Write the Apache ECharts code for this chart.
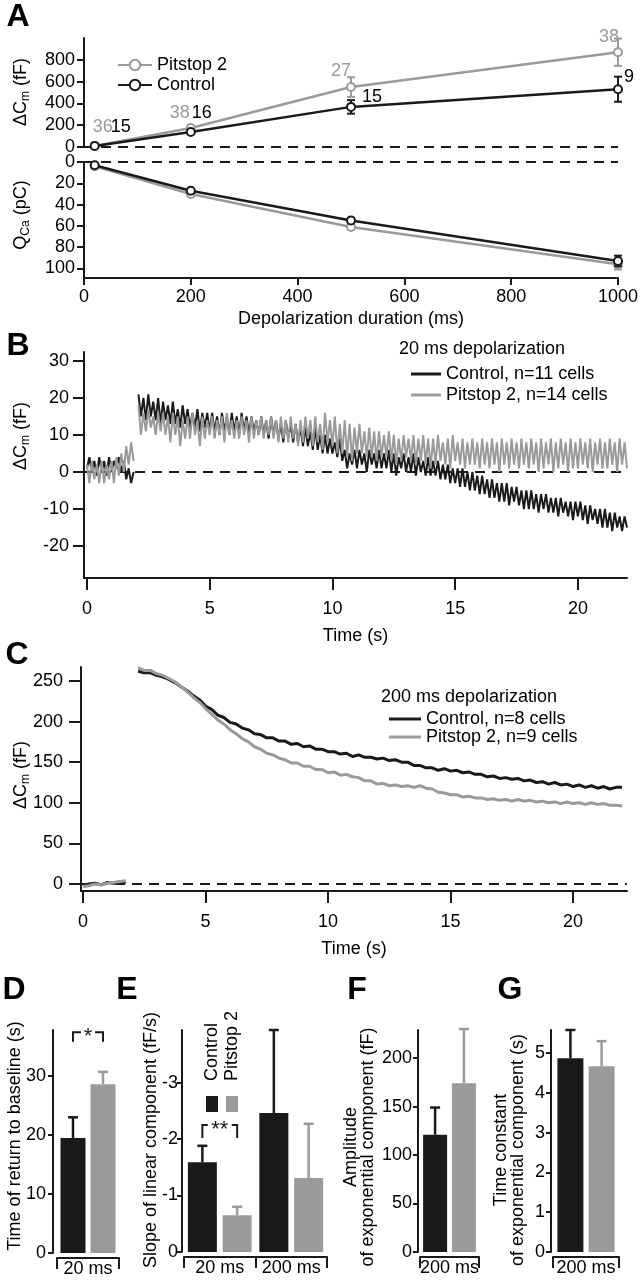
<!DOCTYPE html>
<html>
<head>
<meta charset="utf-8">
<script src="https://cdn.jsdelivr.net/npm/echarts@6.0.0/dist/echarts.min.js"></script>
<style>
html, body { margin: 0; padding: 0; background: #fff; }
#fig { width: 641px; height: 1280px; }
</style>
</head>
<body>
<div id="fig"></div>
<script>
var FONT = '"Liberation Sans", Arial, Helvetica, sans-serif';
var BLACK = '#1a1a1a';
var GRAY = '#9a9a9a';
var FS = 18;

// A: capacitance change and Ca charge vs depolarization length
var durations = [20, 200, 500, 1000];
var cmPitstop = [10, 175, 550, 870];
var cmPitstopErr = [5, 22, 90, 125];
var cmControl = [10, 138, 368, 530];
var cmControlErr = [5, 12, 62, 115];
var nPitstop = [36, 38, 27, 38];
var nControl = [15, 16, 15, 9];
var qPitstop = [4, 30, 61, 96];
var qPitstopErr = [0.5, 1.5, 2.5, 5];
var qControl = [3, 27, 55, 93];
var qControlErr = [0.5, 1.5, 2.5, 5];

// B: 20 ms depolarization traces, one value every 0.1 s (null = pulse gap)
var bDt = 0.1;
var bControl = [
  1, 4, 0, 3, -1, 4, 0, 3, -1, 4, 0, 3, 1, 4, 0, 3, -2, 1, -3, 0,
  null,
  21, 15, 20, 14, 21, 15, 19, 14, 20, 13,
  19, 14, 18, 13, 19, 13, 17, 12, 18, 13,
  17, 12, 16, 12, 17, 11, 16, 12, 16, 11,
  16, 11, 15, 10, 16, 11, 15, 10, 16, 11,
  15, 10, 16, 11, 15, 10, 15, 11, 14, 10,
  15, 10, 14, 9, 15, 10, 14, 9, 13, 8,
  14, 9, 13, 8, 13, 8, 12, 7, 12, 7,
  11, 6, 12, 6, 10, 5, 10, 5, 9, 5,
  8, 4, 9, 3, 6, 1, 5, 2, 6, 1,
  6, 2, 5, 0, 6, 2, 5, 1, 6, 1,
  5, 1, 6, 0, 5, -1, 4, 1, 5, 0,
  4, 0, 5, -1, 4, 0, 3, -1, 4, -1,
  3, -1, 3, -2, 2, -2, 2, -3, 1, -3,
  1, -4, 1, -4, 0, -5, 0, -5, -1, -6,
  -1, -6, -2, -7, -2, -7, -3, -8, -3, -8,
  -3, -9, -4, -8, -4, -9, -5, -10, -5, -10,
  -5, -10, -6, -11, -6, -10, -6, -11, -7, -11,
  -7, -12, -7, -11, -8, -12, -8, -13, -8, -12,
  -8, -13, -9, -14, -9, -13, -10, -14, -10, -15,
  -10, -15, -11, -16, -11, -15, -12, -16, -12, -15
];
var bPitstop = [
  2, -3, 3, -2, 2, -3, 3, -3, 2, -2, 3, -3, 4, -1, 5, 0, 7, 2, 8, 3,
  null,
  18, 10, 16, 11, 17, 12, 15, 10, 16, 11,
  16, 10, 15, 8, 16, 10, 15, 7, 14, 9,
  15, 9, 16, 10, 14, 7, 15, 9, 14, 10,
  15, 9, 14, 10, 15, 8, 16, 10, 14, 9,
  14, 9, 15, 10, 14, 8, 15, 9, 14, 10,
  15, 9, 14, 10, 15, 9, 14, 8, 15, 9,
  14, 8, 15, 9, 13, 7, 14, 8, 15, 9,
  14, 7, 15, 8, 13, 6, 16, 8, 14, 7,
  15, 5, 13, 5, 14, 4, 13, 3, 12, 5,
  13, 5, 11, 4, 12, 4, 11, 3, 11, 4,
  10, 4, 11, 3, 10, 2, 9, 3, 10, 4,
  9, 3, 10, 2, 9, 3, 10, 2, 9, 1,
  9, 2, 10, 3, 8, 2, 9, 1, 10, 3,
  8, 2, 9, 1, 8, 2, 9, 2, 8, 1,
  9, 2, 8, 1, 9, 2, 8, 0, 9, 2,
  8, 1, 9, 2, 8, 1, 9, 2, 8, 1,
  9, 2, 8, 0, 9, 1, 8, 2, 9, 0,
  8, 1, 9, 2, 8, 0, 9, 1, 8, 1,
  9, 2, 8, 1, 9, 0, 8, 2, 9, 1,
  8, 1, 9, 2, 8, 0, 9, 2, 8, 1
];

// C: 200 ms depolarization traces, one value every 0.25 s
var cDt = 0.25;
var cControl = [
  -2, 0, 1, -1, 2, 1, 3, 2,
  null,
  262, 260, 260, 257, 255, 252, 248, 243,
  238, 232, 227, 219, 215, 208, 205, 199,
  197, 192, 190, 185, 184, 180, 180, 176,
  176, 172, 173, 169, 170, 166, 166, 163,
  163, 160, 161, 157, 159, 156, 156, 154,
  155, 152, 153, 150, 150, 146, 146, 143,
  143, 140, 142, 139, 140, 137, 138, 135,
  135, 132, 133, 130, 131, 129, 130, 127,
  128, 125, 126, 123, 125, 122, 123, 120,
  122, 119, 121, 118, 120, 117, 119, 119
];
var cPitstop = [
  -3, -2, 0, -1, 1, 2, 3, 4,
  null,
  266, 263, 263, 259, 257, 253, 249, 243,
  237, 230, 224, 216, 209, 202, 197, 190,
  185, 179, 175, 169, 166, 161, 159, 155,
  153, 149, 149, 145, 145, 141, 141, 137,
  138, 134, 135, 132, 131, 127, 127, 123,
  124, 121, 122, 120, 121, 119, 121, 118,
  117, 113, 112, 110, 110, 107, 108, 106,
  106, 104, 105, 103, 104, 102, 104, 102,
  103, 101, 102, 100, 101, 99, 101, 99,
  100, 98, 100, 98, 99, 97, 97, 96
];

// D-G: bar summaries (mean, sem)
var dGroups = ['20 ms'];
var dControl = [19.5], dControlErr = [3.5];
var dPitstop = [28.6], dPitstopErr = [2.1];
var eGroups = ['20 ms', '200 ms'];
var eControl = [-1.59, -2.46], eControlErr = [0.29, 1.47];
var ePitstop = [-0.65, -1.31], ePitstopErr = [0.15, 0.96];
var fGroups = ['200 ms'];
var fControl = [121], fControlErr = [28];
var fPitstop = [174], fPitstopErr = [56];
var gGroups = ['200 ms'];
var gControl = [4.87], gControlErr = [0.71];
var gPitstop = [4.67], gPitstopErr = [0.63];
// significance brackets: [group, top, leg end]
var sigD = [[0, 37.4, 35.8]];
var sigE = [[0, -2.25, -2.02]];

function trace(arr, dt) {
  return arr.map(function (v, i) {
    return [Math.round(i * dt * 100) / 100, v === null ? '-' : v];
  });
}

function errLine(params, api) {
  var x = api.value(0), m = api.value(1), e = api.value(2);
  var lo = api.coord([x, m - e]), hi = api.coord([x, m + e]);
  var st = { stroke: api.visual('color'), lineWidth: 2 };
  var cap = 4;
  return { type: 'group', children: [
    { type: 'line', shape: { x1: lo[0], y1: lo[1], x2: hi[0], y2: hi[1] }, style: st },
    { type: 'line', shape: { x1: lo[0] - cap, y1: lo[1], x2: lo[0] + cap, y2: lo[1] }, style: st },
    { type: 'line', shape: { x1: hi[0] - cap, y1: hi[1], x2: hi[0] + cap, y2: hi[1] }, style: st }
  ] };
}

function errBar(shift) {
  return function (params, api) {
    var c = api.value(0), m = api.value(1), e = api.value(2);
    var end = m < 0 ? m - e : m + e;
    var p0 = api.coord([c, m]), p1 = api.coord([c, end]);
    var x = p0[0] + shift, cap = 5;
    var st = { stroke: api.visual('color'), lineWidth: 2.5 };
    return { type: 'group', children: [
      { type: 'line', shape: { x1: x, y1: p0[1], x2: x, y2: p1[1] }, style: st },
      { type: 'line', shape: { x1: x - cap, y1: p1[1], x2: x + cap, y2: p1[1] }, style: st }
    ] };
  };
}

function sigBracket(shift, stars) {
  return function (params, api) {
    var a = api.coord([api.value(0), api.value(1)]);
    var b = api.coord([api.value(0), api.value(2)]);
    var xl = a[0] - shift, xr = a[0] + shift, y = a[1], gap = stars.length * 5 + 2;
    var st = { stroke: BLACK, lineWidth: 2, fill: null };
    return { type: 'group', children: [
      { type: 'polyline', shape: { points: [[xl, b[1]], [xl, y], [a[0] - gap, y]] }, style: st },
      { type: 'polyline', shape: { points: [[a[0] + gap, y], [xr, y], [xr, b[1]]] }, style: st },
      { type: 'text', x: a[0], y: y + 5, style: { text: stars, fill: BLACK, fontSize: 22, fontFamily: FONT, align: 'center', verticalAlign: 'middle' } }
    ] };
  };
}

function barPanel(idx, ctrl, ctrlErr, pit, pitErr, bw) {
  var shift = bw * 0.6;
  return [
    { type: 'bar', name: 'Control', xAxisIndex: idx, yAxisIndex: idx, data: ctrl, barWidth: bw, barGap: '20%', itemStyle: { color: BLACK } },
    { type: 'bar', name: 'Pitstop 2', xAxisIndex: idx, yAxisIndex: idx, data: pit, barWidth: bw, barGap: '20%', itemStyle: { color: GRAY } },
    { type: 'custom', xAxisIndex: idx, yAxisIndex: idx, itemStyle: { color: BLACK }, renderItem: errBar(-shift),
      data: ctrl.map(function (v, i) { return [i, v, ctrlErr[i]]; }) },
    { type: 'custom', xAxisIndex: idx, yAxisIndex: idx, itemStyle: { color: GRAY }, renderItem: errBar(shift),
      data: pit.map(function (v, i) { return [i, v, pitErr[i]]; }) }
  ];
}

var axisLineStyle = { show: true, onZero: false, lineStyle: { color: BLACK, width: 2 } };
function lbl(margin, extra) {
  var o = { fontSize: FS, fontFamily: FONT, color: '#000', margin: margin };
  for (var k in extra) o[k] = extra[k];
  return o;
}
function valAxis(grid, min, max, ticks, tickLen, margin, extra) {
  var ax = {
    type: 'value', gridIndex: grid, min: min, max: max,
    axisLine: axisLineStyle, splitLine: { show: false },
    axisTick: { show: true, length: tickLen, customValues: ticks, lineStyle: { color: BLACK, width: 2 } },
    axisLabel: lbl(margin, { customValues: ticks, formatter: function (v) { return String(v); } })
  };
  for (var k in extra) ax[k] = extra[k];
  return ax;
}
function catAxis(grid, cats) {
  return {
    type: 'category', gridIndex: grid, data: cats, offset: 5,
    axisLine: axisLineStyle, splitLine: { show: false },
    axisTick: { show: true, length: 11, interval: 0, lineStyle: { color: BLACK, width: 2 } },
    axisLabel: lbl(2, { interval: 0 })
  };
}
var nameStyle = { fontSize: FS, fontFamily: FONT, color: '#000' };

var subRich = {
  a: { fontSize: FS, fontFamily: FONT, fill: '#000', lineHeight: 22, verticalAlign: 'middle' },
  s: { fontSize: 12, fontFamily: FONT, fill: '#000', lineHeight: 11, verticalAlign: 'bottom' }
};
function vTitle(text, x, y, rich) {
  return { type: 'text', x: x, y: y, rotation: Math.PI / 2,
    style: { text: text, fontSize: FS, fontFamily: FONT, fill: '#000', align: 'center', verticalAlign: 'middle', lineHeight: 17, rich: rich } };
}
function letter(ch, x, y) {
  return { type: 'text', x: x, y: y, style: { text: ch, font: 'bold 32px ' + FONT, fill: '#000', align: 'center', verticalAlign: 'middle' } };
}
function plain(text, x, y, align) {
  return { type: 'text', x: x, y: y, style: { text: text, fontSize: FS, fontFamily: FONT, fill: '#000', align: align || 'left', verticalAlign: 'middle' } };
}

var zeroLine = { symbol: 'none', silent: true, z: 1, label: { show: false },
  lineStyle: { type: [10, 7], color: BLACK, width: 2 }, data: [{ yAxis: 0 }] };

var cmPitstopLabelPos = [[8, -19], [-11, -15], [-10, -16], [-9, -15]];
var cmControlLabelPos = [[26, -19], [11, -19], [21, -10], [11, -12]];

var chart = echarts.init(document.getElementById('fig'));
var option = {
  animation: false,
  backgroundColor: '#fff',
  textStyle: { fontFamily: FONT },
  grid: [
    { left: 84, top: 38, width: 534, height: 109 },
    { left: 84, top: 162, width: 534, height: 116 },
    { left: 84, top: 352, width: 543, height: 226 },
    { left: 81, top: 667, width: 546, height: 224 },
    { left: 57, top: 1030, width: 62, height: 223 },
    { left: 184, top: 1030, width: 143, height: 222 },
    { left: 420, top: 1030, width: 59, height: 222 },
    { left: 553, top: 1030, width: 66, height: 222 }
  ],
  xAxis: [
    { type: 'value', gridIndex: 0, min: 0, max: 1000, show: false },
    valAxis(1, 0, 1000, [0, 200, 400, 600, 800, 1000], 7, 10,
      { name: 'Depolarization duration (ms)', nameLocation: 'middle', nameGap: 32, nameTextStyle: nameStyle }),
    valAxis(2, -0.12, 22, [0, 5, 10, 15, 20], 12, 22,
      { name: 'Time (s)', nameLocation: 'middle', nameGap: 49, nameTextStyle: nameStyle }),
    valAxis(3, -0.08, 22.2, [0, 5, 10, 15, 20], 12, 22,
      { name: 'Time (s)', nameLocation: 'middle', nameGap: 49, nameTextStyle: nameStyle }),
    catAxis(4, dGroups),
    catAxis(5, eGroups),
    catAxis(6, fGroups),
    catAxis(7, gGroups)
  ],
  yAxis: [
    valAxis(0, 0, 1000, [0, 200, 400, 600, 800], 7, 9),
    valAxis(1, 0, 109, [0, 20, 40, 60, 80, 100], 7, 9, { inverse: true }),
    valAxis(2, -28.65, 32.43, [-20, -10, 0, 10, 20, 30], 11, 15),
    valAxis(3, -8.6, 267.2, [0, 50, 100, 150, 200, 250], 12, 18),
    valAxis(4, 0, 37.8, [0, 10, 20, 30], 5, 7, { offset: 4 }),
    valAxis(5, -3.93, 0, [-3, -2, -1, 0], 5, 4, { offset: 2, inverse: true }),
    valAxis(6, 0, 229, [0, 50, 100, 150, 200], 5, 6, { offset: 2 }),
    valAxis(7, 0, 5.58, [0, 1, 2, 3, 4, 5], 5, 6, { offset: 2 })
  ],
  legend: [
    { data: ['Pitstop 2', 'Control'], orient: 'vertical', left: 112, top: 51, itemWidth: 34, itemHeight: 13, itemGap: 2,
      selectedMode: false, textStyle: nameStyle },
    { data: ['Control, n=11 cells', 'Pitstop 2, n=14 cells'], orient: 'vertical', left: 406, top: 360, icon: 'rect',
      itemWidth: 30, itemHeight: 3, itemGap: 3, selectedMode: false, textStyle: nameStyle },
    { data: ['Control, n=8 cells', 'Pitstop 2, n=9 cells'], orient: 'vertical', left: 384, top: 705, icon: 'rect',
      itemWidth: 32, itemHeight: 3, itemGap: 0, selectedMode: false, textStyle: nameStyle }
  ],
  series: [
    { type: 'line', name: 'Pitstop 2', xAxisIndex: 0, yAxisIndex: 0, z: 3,
      data: durations.map(function (d, i) { return { value: [d, cmPitstop[i]], label: { offset: cmPitstopLabelPos[i] } }; }),
      symbol: 'emptyCircle', symbolSize: 8, color: GRAY, lineStyle: { width: 2.5, color: GRAY }, itemStyle: { color: GRAY, borderWidth: 2 },
      label: { show: true, position: 'inside', color: GRAY, fontSize: FS, fontFamily: FONT,
        formatter: function (p) { return nPitstop[p.dataIndex]; } } },
    { type: 'line', name: 'Control', xAxisIndex: 0, yAxisIndex: 0, z: 4,
      data: durations.map(function (d, i) { return { value: [d, cmControl[i]], label: { offset: cmControlLabelPos[i] } }; }),
      symbol: 'emptyCircle', symbolSize: 8, color: BLACK, lineStyle: { width: 2.5, color: BLACK }, itemStyle: { color: BLACK, borderWidth: 2 },
      label: { show: true, position: 'inside', color: '#000', fontSize: FS, fontFamily: FONT,
        formatter: function (p) { return nControl[p.dataIndex]; } },
      markLine: zeroLine },
    { type: 'line', name: 'Pitstop 2', xAxisIndex: 1, yAxisIndex: 1, z: 3,
      data: durations.map(function (d, i) { return [d, qPitstop[i]]; }),
      symbol: 'emptyCircle', symbolSize: 8, color: GRAY, lineStyle: { width: 2.5, color: GRAY }, itemStyle: { color: GRAY, borderWidth: 2 } },
    { type: 'line', name: 'Control', xAxisIndex: 1, yAxisIndex: 1, z: 4,
      data: durations.map(function (d, i) { return [d, qControl[i]]; }),
      symbol: 'emptyCircle', symbolSize: 8, color: BLACK, lineStyle: { width: 2.5, color: BLACK }, itemStyle: { color: BLACK, borderWidth: 2 },
      markLine: zeroLine },
    { type: 'custom', xAxisIndex: 0, yAxisIndex: 0, z: 3, itemStyle: { color: GRAY }, renderItem: errLine,
      data: durations.map(function (d, i) { return [d, cmPitstop[i], cmPitstopErr[i]]; }) },
    { type: 'custom', xAxisIndex: 0, yAxisIndex: 0, z: 4, itemStyle: { color: BLACK }, renderItem: errLine,
      data: durations.map(function (d, i) { return [d, cmControl[i], cmControlErr[i]]; }) },
    { type: 'custom', xAxisIndex: 1, yAxisIndex: 1, z: 3, itemStyle: { color: GRAY }, renderItem: errLine,
      data: durations.map(function (d, i) { return [d, qPitstop[i], qPitstopErr[i]]; }) },
    { type: 'custom', xAxisIndex: 1, yAxisIndex: 1, z: 4, itemStyle: { color: BLACK }, renderItem: errLine,
      data: durations.map(function (d, i) { return [d, qControl[i], qControlErr[i]]; }) },

    { type: 'line', name: 'Control, n=11 cells', xAxisIndex: 2, yAxisIndex: 2, z: 3, data: trace(bControl, bDt),
      showSymbol: false, symbol: 'none', color: BLACK, lineStyle: { width: 2, color: BLACK }, markLine: zeroLine },
    { type: 'line', name: 'Pitstop 2, n=14 cells', xAxisIndex: 2, yAxisIndex: 2, z: 4, data: trace(bPitstop, bDt),
      showSymbol: false, symbol: 'none', color: GRAY, lineStyle: { width: 2, color: GRAY } },

    { type: 'line', name: 'Control, n=8 cells', xAxisIndex: 3, yAxisIndex: 3, z: 3, data: trace(cControl, cDt),
      showSymbol: false, symbol: 'none', color: BLACK, lineStyle: { width: 3, color: BLACK }, markLine: zeroLine },
    { type: 'line', name: 'Pitstop 2, n=9 cells', xAxisIndex: 3, yAxisIndex: 3, z: 4, data: trace(cPitstop, cDt),
      showSymbol: false, symbol: 'none', color: GRAY, lineStyle: { width: 3, color: GRAY } }
  ]
    .concat(barPanel(4, dControl, dControlErr, dPitstop, dPitstopErr, 25))
    .concat(barPanel(5, eControl, eControlErr, ePitstop, ePitstopErr, 29))
    .concat(barPanel(6, fControl, fControlErr, fPitstop, fPitstopErr, 24))
    .concat(barPanel(7, gControl, gControlErr, gPitstop, gPitstopErr, 26))
    .concat([
      { type: 'custom', xAxisIndex: 4, yAxisIndex: 4, renderItem: sigBracket(15, '*'), data: sigD },
      { type: 'custom', xAxisIndex: 5, yAxisIndex: 5, renderItem: sigBracket(17.4, '**'), data: sigE }
    ]),
  graphic: [
    letter('A', 18, 17), letter('B', 18, 346), letter('C', 17, 655),
    letter('D', 14, 990), letter('E', 127, 990), letter('F', 357, 990), letter('G', 510, 990),
    vTitle('{a|\u0394C}{s|m}{a| (fF)}', 21, 92, subRich),
    vTitle('{a|Q}{s|Ca}{a| (pC)}', 21, 215, subRich),
    vTitle('{a|\u0394C}{s|m}{a| (fF)}', 21, 436, subRich),
    vTitle('{a|\u0394C}{s|m}{a| (fF)}', 21, 775, subRich),
    vTitle('Time of return to baseline (s)', 15, 1136),
    vTitle('Slope of linear component (fF/s)', 151, 1140),
    vTitle('Amplitude\nof exponential component (fF)', 360, 1147),
    vTitle('Time constant\nof exponential component (s)', 510, 1150),
    plain('20 ms depolarization', 399, 349),
    plain('200 ms depolarization', 381, 697),
    { type: 'rect', shape: { x: 206, y: 1096, width: 12, height: 16 }, style: { fill: BLACK } },
    { type: 'rect', shape: { x: 226, y: 1096, width: 12, height: 16 }, style: { fill: GRAY } },
    { type: 'text', x: 212, y: 1081, rotation: Math.PI / 2, style: { text: 'Control', fontSize: FS, fontFamily: FONT, fill: '#000', align: 'left', verticalAlign: 'middle' } },
    { type: 'text', x: 232, y: 1081, rotation: Math.PI / 2, style: { text: 'Pitstop 2', fontSize: FS, fontFamily: FONT, fill: '#000', align: 'left', verticalAlign: 'middle' } }
  ]
};
chart.setOption(option);
</script>
</body>
</html>
